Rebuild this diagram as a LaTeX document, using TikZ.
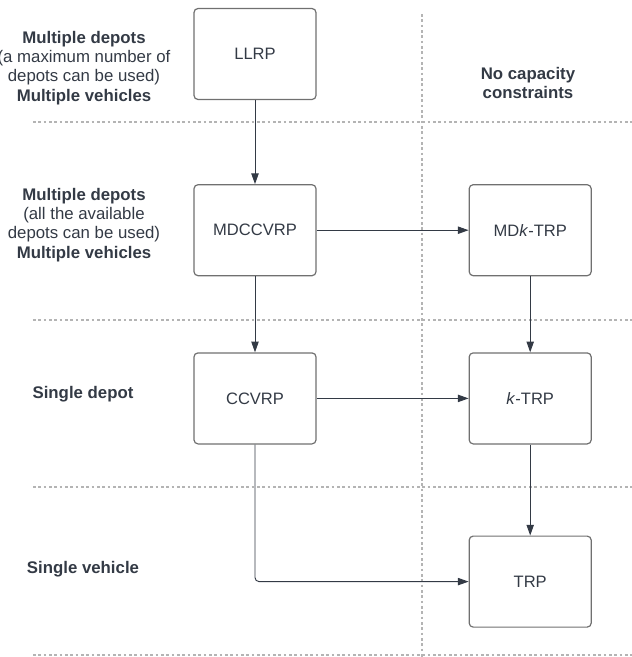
\documentclass[tikz,border=0pt]{standalone}
\usepackage{fontspec}
\setmainfont{Liberation Sans}
\usetikzlibrary{arrows.meta, positioning}
\definecolor{inkc}{HTML}{333A45}
\definecolor{framec}{HTML}{707070}
\definecolor{gridc}{HTML}{B4B4B4}

\begin{document}
\begin{tikzpicture}[x=0.75pt, y=-0.75pt,
    probbox/.style={draw=framec, line width=0.9pt, rounded corners=3pt, minimum width=91.5pt, minimum height=68.25pt, font=\fontsize{12.4}{14}\selectfont, text=inkc},
    rowlabel/.style={align=center, font=\fontsize{12.6}{14.4}\selectfont, text=inkc},
    gridline/.style={draw=gridc, line width=0.8pt, dash pattern=on 2pt off 2pt},
    arr/.style={-{Triangle[length=8pt, width=5.5pt]}, draw=inkc, line width=0.7pt}]
    \useasboundingbox (0,0) rectangle (632,657);

    % dashed grid
    \foreach \yy in {122, 320, 487, 655}
        \draw[gridline] (33,\yy) -- (632,\yy);
    \draw[gridline] (422,14) -- (422,657);

    % problems
    \node[probbox] (llrp) at (255,54) {LLRP};
    \node[probbox, below=63pt of llrp] (mdccvrp) {MDCCVRP};
    \node[probbox, below=57pt of mdccvrp] (ccvrp) {CCVRP};
    \node[probbox, right=114pt of mdccvrp] (mdktrp) {MD\textit{k}-TRP};
    \node[probbox, right=114pt of ccvrp] (ktrp) {\textit{k}-TRP};
    \node[probbox, below=68.25pt of ktrp] (trp) {TRP};

    % row and column labels
    \node[rowlabel] (rowa) at (84,68) {\textbf{Multiple depots}\\(a maximum number of\\depots can be used)\\\textbf{Multiple vehicles}};
    \node[rowlabel] (rowb) at (84,225) {\textbf{Multiple depots}\\(all the available\\depots can be used)\\\textbf{Multiple vehicles}};
    \node[rowlabel] (rowc) at (83,394) {\textbf{Single depot}};
    \node[rowlabel] (rowd) at (83,569) {\textbf{Single vehicle}};
    \node[rowlabel] (nocap) at (528,83) {\textbf{No capacity}\\\textbf{constraints}};

    % reductions
    \draw[arr] (llrp) -- (mdccvrp);
    \draw[arr] (mdccvrp) -- (mdktrp);
    \draw[arr] (mdccvrp) -- (ccvrp);
    \draw[arr] (mdktrp) -- (ktrp);
    \draw[arr] (ccvrp) -- (ktrp);
    \draw[arr] (ktrp) -- (trp);
    \draw[arr, rounded corners=3pt] (ccvrp.south) |- (trp.west);
\end{tikzpicture}
\end{document}
